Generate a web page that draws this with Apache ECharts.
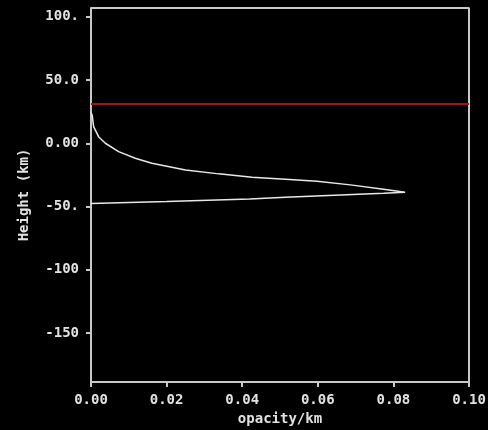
<!DOCTYPE html>
<html>
<head>
  <meta charset="utf-8">
  <title>opacity profile</title>
  <script src="https://cdn.jsdelivr.net/npm/echarts@6/dist/echarts.min.js"></script>
  <style>
    html, body { margin: 0; padding: 0; background: #000; }
    #chart { width: 488px; height: 430px; }
  </style>
</head>
<body>
<div id="chart"></div>
<script>
  // opacity (1/km) vs height (km)
  const opacity = [0.0, 0.0003, 0.0007, 0.002, 0.0038, 0.0073, 0.0117, 0.0161, 0.025, 0.0338,
                   0.0426, 0.0514, 0.0598, 0.0686, 0.0774, 0.0831,
                   0.0774, 0.0514, 0.042, 0.02, 0.0];
  const height  = [24.0, 22.3, 13.1, 5.2, 0.0, -6.6, -11.8, -15.8, -21.1, -24.2,
                   -26.8, -28.4, -30.0, -32.9, -36.3, -38.7,
                   -39.6, -42.6, -44.0, -46.0, -47.7];
  const redLevel = 31.0;
  const yTicks = [100, 50, 0, -50, -100, -150];
  const yTickText = ['100.', '50.0', '0.00', '-50.', '-100', '-150'];
  const xTicks = [0, 0.02, 0.04, 0.06, 0.08, 0.10];
  const xTickText = ['0.00', '0.02', '0.04', '0.06', '0.08', '0.10'];

  const font = 'DejaVu Sans Mono';
  const txt = '#e2e2e2';
  const axisCol = '#c8c8c8';

  let pts = [];
  for (let i = 0; i < opacity.length; i++) pts.push([opacity[i], height[i]]);

  let myChart = echarts.init(document.getElementById('chart'));
  let option = {
    backgroundColor: '#000',
    animation: false,
    grid: { left: 91, right: 19, top: 8, bottom: 48, containLabel: false, outerBoundsMode: 'none' },
    xAxis: {
      type: 'value',
      min: 0, max: 0.1,
      name: 'opacity/km',
      nameLocation: 'middle',
      nameGap: 30,
      nameTextStyle: { color: txt, fontFamily: font, fontWeight: 'bold', fontSize: 14 },
      axisLine: { show: true, onZero: false, lineStyle: { color: axisCol, width: 2 } },
      axisTick: { show: true, length: 5, customValues: xTicks, lineStyle: { color: axisCol, width: 2 } },
      axisLabel: {
        customValues: xTicks, margin: 11,
        color: txt, fontFamily: font, fontWeight: 'bold', fontSize: 14,
        formatter: function (v) { return xTickText[xTicks.findIndex(t => Math.abs(t - v) < 1e-9)]; }
      },
      splitLine: { show: false }
    },
    yAxis: {
      type: 'value',
      min: -188.7, max: 106.9,
      name: 'Height (km)',
      nameLocation: 'middle',
      nameGap: 60,
      nameTextStyle: { color: txt, fontFamily: font, fontWeight: 'bold', fontSize: 14 },
      axisLine: { show: true, onZero: false, lineStyle: { color: axisCol, width: 2 } },
      axisTick: { show: true, length: 5, customValues: yTicks, lineStyle: { color: axisCol, width: 2 } },
      axisLabel: {
        customValues: yTicks, margin: 12,
        color: txt, fontFamily: font, fontWeight: 'bold', fontSize: 14,
        formatter: function (v) { return yTickText[yTicks.findIndex(t => Math.abs(t - v) < 1e-6)]; }
      },
      splitLine: { show: false }
    },
    series: [
      {
        type: 'line',
        data: pts,
        showSymbol: false,
        lineStyle: { color: '#e8e8e8', width: 1.5 },
        markLine: {
          silent: true,
          symbol: 'none',
          label: { show: false },
          lineStyle: { color: '#a01414', width: 2, type: 'solid' },
          data: [{ yAxis: redLevel }]
        },
        z: 3
      },
      {
        // top and right frame
        type: 'line',
        data: [[0, 106.9], [0.1, 106.9], [0.1, -188.7]],
        showSymbol: false,
        lineStyle: { color: axisCol, width: 2 },
        z: 2
      }
    ]
  };
  myChart.setOption(option);
</script>
</body>
</html>
